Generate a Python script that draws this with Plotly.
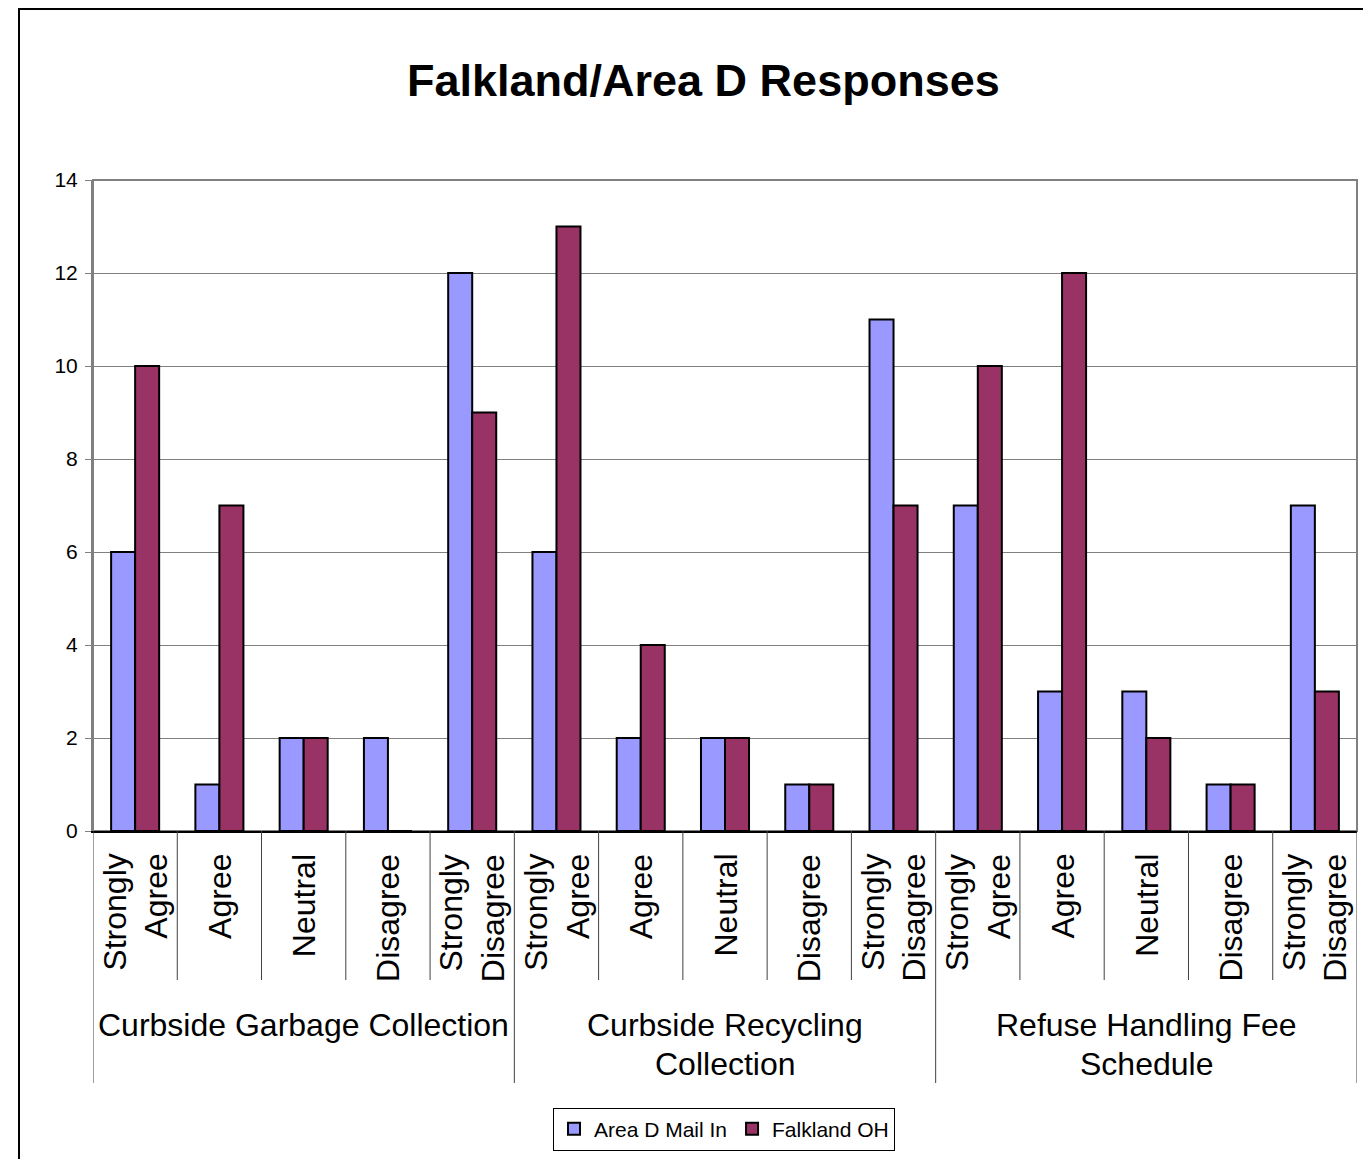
import plotly.graph_objects as go

groups = ["Curbside Garbage Collection", "Curbside Recycling<br>Collection", "Refuse Handling Fee<br>Schedule"]
responses = ["Strongly<br>Agree", "Agree", "Neutral", "Disagree", "Strongly<br>Disagree"]
area_d_mail_in = [6, 1, 2, 2, 12, 6, 2, 2, 1, 11, 7, 3, 3, 1, 7]
falkland_oh = [10, 7, 2, 0, 9, 13, 4, 2, 1, 7, 10, 12, 2, 1, 3]
y_ticks = [0, 2, 4, 6, 8, 10, 12, 14]

OFF = 8  # page body margin
W, H = 1371 - OFF, 1159 - OFF
L, R, T, B = 93, 1357, 180, 831  # absolute page pixels of plot area
PW, PH = R - L, B - T
FONT = "Liberation Sans, Arial, sans-serif"

def py(ypx):
    return (B - ypx) / PH

def px(xpx):
    return (xpx - L) / PW

n = len(groups) * len(responses)
xs = list(range(n))

fig = go.Figure()
fig.add_trace(go.Bar(x=xs, y=area_d_mail_in, name="Area D Mail In",
                     marker=dict(color="#9999FF", line=dict(color="black", width=2))))
fig.add_trace(go.Bar(x=xs, y=falkland_oh, name="Falkland OH",
                     marker=dict(color="#993366", line=dict(color="black", width=2))))

shapes = []
# outer chart border
shapes.append(dict(type="rect", xref="paper", yref="paper",
                   x0=px(19), x1=px(1400), y0=py(1200), y1=py(9),
                   line=dict(color="black", width=2), layer="below"))
# plot area border (gray)
shapes.append(dict(type="rect", xref="paper", yref="paper", x0=0, x1=1, y0=0, y1=1,
                   line=dict(color="#808080", width=2), layer="below"))
# category dividers
for k in range(n + 1):
    xpos = k - 0.5
    big = (k % len(responses) == 0)
    shapes.append(dict(type="line", xref="x", yref="paper", x0=xpos, x1=xpos,
                       y0=0, y1=py(1083) if big else py(980),
                       line=dict(color="#404040", width=1)))

annotations = []
annotations.append(dict(text="<b>Falkland/Area D Responses</b>", xref="paper", yref="paper",
                        x=px(703), y=py(80), xanchor="center", yanchor="middle",
                        showarrow=False, font=dict(family=FONT, size=45, color="black")))
for gi, g in enumerate(groups):
    for ri, r in enumerate(responses):
        k = gi * len(responses) + ri
        annotations.append(dict(text=r, xref="x", yref="paper", x=k, y=py(852),
                                xanchor="center", yanchor="top", textangle=-90,
                                align="right", showarrow=False,
                                font=dict(family=FONT, size=32, color="black")))
    for li, line in enumerate(g.split("<br>")):
        annotations.append(dict(text=line, xref="x", yref="paper",
                                x=gi * len(responses) + (len(responses) - 1) / 2,
                                y=py(1005 + 39 * li),
                                xanchor="center", yanchor="top", align="center",
                                showarrow=False, font=dict(family=FONT, size=32, color="black")))

fig.update_layout(
    width=W, height=H,
    margin=dict(l=L - OFF, r=W - (R - OFF), t=T - OFF, b=H - (B - OFF), autoexpand=False),
    paper_bgcolor="white", plot_bgcolor="white",
    barmode="group", bargap=0.43, bargroupgap=0,
    showlegend=True,
    legend=dict(orientation="h", x=px(724), y=py(1129), xanchor="center", yanchor="middle",
                bordercolor="black", borderwidth=1, bgcolor="white",
                font=dict(family=FONT, size=21, color="black"),
                itemwidth=30, traceorder="normal"),
    xaxis=dict(range=[-0.5, n - 0.5], showticklabels=False, ticks="", showgrid=False,
               zeroline=False, showline=True, linecolor="black", linewidth=2),
    yaxis=dict(range=[0, 14], tickvals=y_ticks, ticks="outside", ticklen=6, tickcolor="#808080",
               tickwidth=1, showgrid=True, gridcolor="#808080", gridwidth=1, zeroline=False,
               showline=True, linecolor="#808080", linewidth=2, ticklabelstandoff=3,
               tickfont=dict(family=FONT, size=21, color="black")),
    shapes=shapes, annotations=annotations,
)

fig.write_html("out.html")
